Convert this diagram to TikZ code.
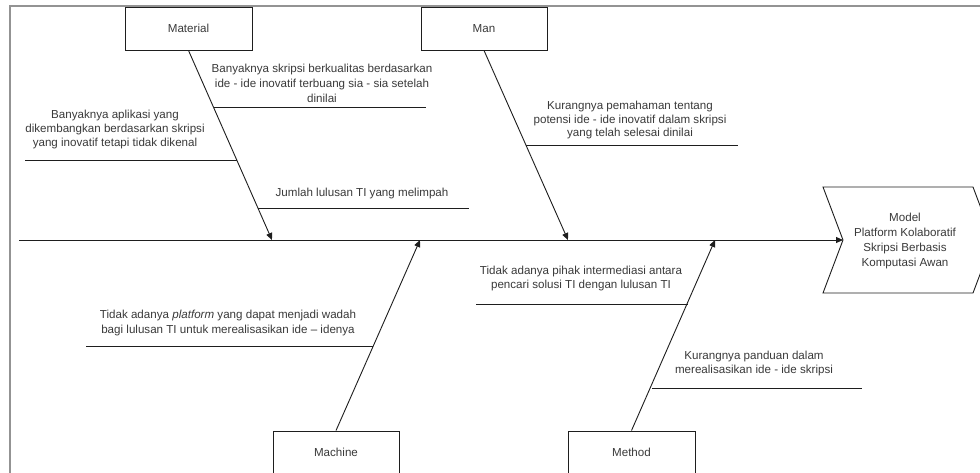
\documentclass[tikz,border=0pt]{standalone}
\usepackage{fontspec}
\setmainfont{Liberation Sans}
\usetikzlibrary{arrows.meta}
\definecolor{txt}{HTML}{3A3A3A}
\definecolor{ln}{HTML}{1E1E1E}
\begin{document}
\begin{tikzpicture}[x=1pt,y=-1pt,
  catbox/.style={draw=ln, line width=0.9pt, fill=white, minimum width=127pt, minimum height=43pt, inner sep=0pt, text=txt, font=\fontsize{11.6}{14}\selectfont},
  cause/.style={text=txt, align=center, inner sep=0pt, font=\fontsize{11.6}{#1}\selectfont},
  cause/.default=14.5,
  bone/.style={draw=ln, line width=0.9pt, -{Triangle[length=7pt,width=6pt]}},
  subbone/.style={draw=ln, line width=0.9pt}]
\useasboundingbox (0,0) rectangle (980,472);
\fill[white] (0,0) rectangle (980,472);
% frame
\draw[gray!85, line width=2pt] (10,480) -- (10,6) -- (990,6);

% category boxes
\node[catbox] (material) at (188.5,28.5) {Material};
\node[catbox, minimum width=126pt] (man) at (484,28.5) {Man};
\node[catbox, minimum width=126pt] (machine) at (336,452.5) {Machine};
\node[catbox] (method) at (631.5,452.5) {Method};

% spine and result
\coordinate (spinestart) at (19,240);
\coordinate (notch) at (843,240);
\draw[draw=ln, line width=0.9pt] (823,187) -- (973,187) -- (993,240) -- (973,293) -- (823,293) -- (843,240) -- cycle;
\node[cause=15] (result) at (905,240.5) {Model\\Platform Kolaboratif\\Skripsi Berbasis\\Komputasi Awan};
\draw[bone] (spinestart) -- (notch);

% bones
\coordinate (matend) at (272,240);
\coordinate (manend) at (568,240);
\coordinate (macend) at (420,240);
\coordinate (metend) at (715,240);
\draw[bone] (material.south) -- (matend);
\draw[bone] (man.south) -- (manend);
\draw[bone] (machine.north) -- (macend);
\draw[bone] (method.north) -- (metend);

% causes: Material
\coordinate (c1a) at (214,107); \coordinate (c1b) at (426,107);
\draw[subbone] (c1a) -- (c1b);
\node[cause=15] (t1) at (322,83) {Banyaknya skripsi berkualitas berdasarkan\\ide - ide inovatif terbuang sia - sia setelah\\dinilai};

\coordinate (c2a) at (25,160); \coordinate (c2b) at (237,160);
\draw[subbone] (c2a) -- (c2b);
\node[cause=14] (t2) at (115,129) {Banyaknya aplikasi yang\\dikembangkan berdasarkan skripsi\\yang inovatif tetapi tidak dikenal};

\coordinate (c3a) at (258,208); \coordinate (c3b) at (469,208);
\draw[subbone] (c3a) -- (c3b);
\node[cause] (t3) at (362,193) {Jumlah lulusan TI yang melimpah};

% causes: Man
\coordinate (c4a) at (526,145); \coordinate (c4b) at (738,145);
\draw[subbone] (c4a) -- (c4b);
\node[cause=13.5] (t4) at (630,120) {Kurangnya pemahaman tentang\\potensi ide - ide inovatif dalam skripsi\\yang telah selesai dinilai};

% causes: Machine
\coordinate (c5a) at (86,346); \coordinate (c5b) at (373,346);
\draw[subbone] (c5a) -- (c5b);
\node[cause=15] (t5) at (228,322.5) {Tidak adanya \textit{platform} yang dapat menjadi wadah\\bagi lulusan TI untuk merealisasikan ide – idenya};

% causes: Method
\coordinate (c6a) at (476,304); \coordinate (c6b) at (688,304);
\draw[subbone] (c6a) -- (c6b);
\node[cause=14] (t6) at (581,278) {Tidak adanya pihak intermediasi antara\\pencari solusi TI dengan lulusan TI};

\coordinate (c7a) at (652,388); \coordinate (c7b) at (862,388);
\draw[subbone] (c7a) -- (c7b);
\node[cause=14] (t7) at (754,363) {Kurangnya panduan dalam\\merealisasikan ide - ide skripsi};
\end{tikzpicture}
\end{document}
